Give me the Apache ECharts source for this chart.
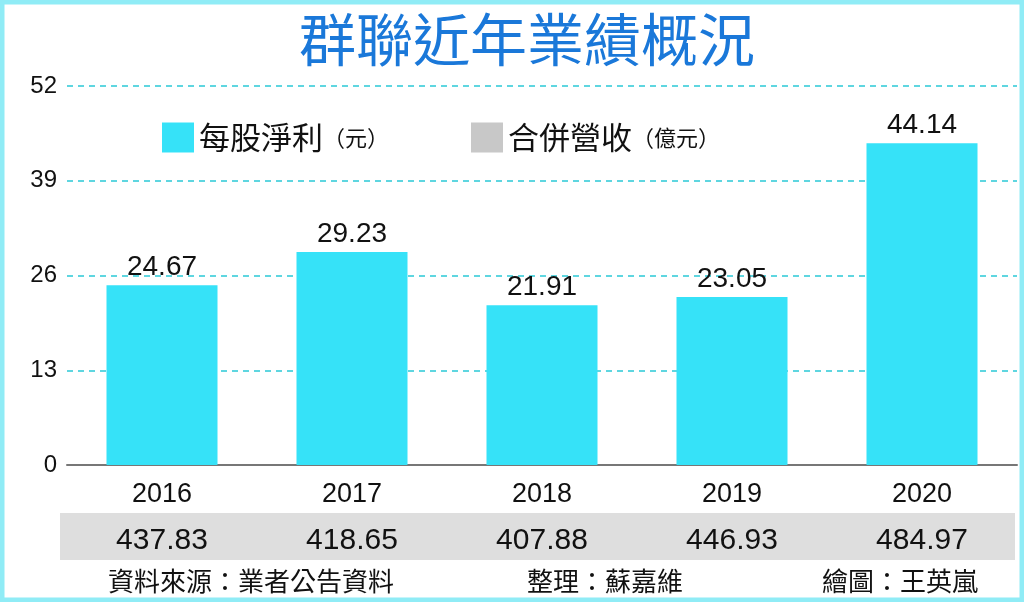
<!DOCTYPE html>
<html>
<head>
<meta charset="utf-8">
<script src="https://cdn.jsdelivr.net/npm/echarts@6/dist/echarts.min.js"></script>
<style>
  html, body { margin: 0; padding: 0; background: #fff; }
  #main { width: 1024px; height: 602px; }
</style>
</head>
<body>
<div id="main"></div>
<script>
var years = ['2016', '2017', '2018', '2019', '2020'];
var eps = [24.67, 29.23, 21.91, 23.05, 44.14];        // 每股淨利(元)
var revenue = [437.83, 418.65, 407.88, 446.93, 484.97]; // 合併營收(億元)
var yTicks = { min: 0, max: 52, interval: 13 };

var numFont = 'Liberation Sans';
var cjkFont = 'Noto Sans CJK TC';

var myChart = echarts.init(document.getElementById('main'));
var option = {
    animation: false,
    title: {
        text: '群聯近年業績概況',
        left: 294,
        top: 6,
        textStyle: {
            fontFamily: cjkFont,
            fontSize: 57,
            fontWeight: 'normal',
            color: '#1a78d9'
        }
    },
    legend: {
        left: 157,
        top: 117,
        icon: 'rect',
        itemWidth: 32,
        itemHeight: 30,
        itemGap: 82,
        data: ['每股淨利', '合併營收'],
        formatter: function (name) {
            return name === '每股淨利' ? '{a|每股淨利}{b|（元）}' : '{a|合併營收}{b|（億元）}';
        },
        textStyle: {
            rich: {
                a: { fontFamily: cjkFont, fontSize: 31, color: '#111' },
                b: { fontFamily: cjkFont, fontSize: 22, color: '#111' }
            }
        }
    },
    grid: {
        left: 67,
        right: 7,
        top: 86,
        bottom: 137
    },
    xAxis: [
        {
            type: 'category',
            data: years,
            axisLine: { lineStyle: { color: '#777', width: 2 } },
            axisTick: { alignWithLabel: true, length: 8, lineStyle: { color: '#777', width: 2 } },
            axisLabel: { margin: 16, fontFamily: numFont, fontSize: 27, color: '#111' }
        },
        {
            type: 'category',
            position: 'bottom',
            data: revenue.map(function (v) { return v.toFixed(2); }),
            axisLine: { show: false },
            axisTick: { show: false },
            axisLabel: { margin: 61, fontFamily: numFont, fontSize: 30, color: '#111' }
        }
    ],
    yAxis: {
        type: 'value',
        min: yTicks.min,
        max: yTicks.max,
        interval: yTicks.interval,
        axisLine: { show: false },
        axisTick: { show: false },
        axisLabel: { margin: 10, fontFamily: numFont, fontSize: 24, color: '#111' },
        splitLine: { lineStyle: { color: '#5fd6e0', width: 2, type: [6, 5] } }
    },
    series: [
        {
            name: '每股淨利',
            type: 'bar',
            barWidth: 111,
            itemStyle: { color: '#36e2f8' },
            label: {
                show: true,
                position: 'top',
                distance: 4,
                fontFamily: numFont,
                fontSize: 28,
                color: '#111',
                formatter: function (p) { return p.value.toFixed(2); }
            },
            data: eps
        },
        {
            // legend entry only; revenue is shown in the grey row under the axis
            name: '合併營收',
            type: 'line',
            itemStyle: { color: '#c8c8c8' },
            data: []
        }
    ],
    graphic: [
        {
            type: 'rect',
            z: -1,
            shape: { x: 60, y: 513, width: 955, height: 47 },
            style: { fill: '#dedede' }
        },
        {
            type: 'rect',
            shape: { x: 2, y: 2, width: 1020, height: 598 },
            style: { fill: 'none', stroke: '#90ecf6', lineWidth: 5 }
        },
        {
            type: 'text',
            x: 251, y: 581,
            style: { text: '資料來源：業者公告資料', fontFamily: cjkFont, fontSize: 26, fill: '#111', align: 'center', verticalAlign: 'middle' }
        },
        {
            type: 'text',
            x: 605, y: 581,
            style: { text: '整理：蘇嘉維', fontFamily: cjkFont, fontSize: 26, fill: '#111', align: 'center', verticalAlign: 'middle' }
        },
        {
            type: 'text',
            x: 900, y: 581,
            style: { text: '繪圖：王英嵐', fontFamily: cjkFont, fontSize: 26, fill: '#111', align: 'center', verticalAlign: 'middle' }
        }
    ]
};
myChart.setOption(option);
</script>
</body>
</html>
